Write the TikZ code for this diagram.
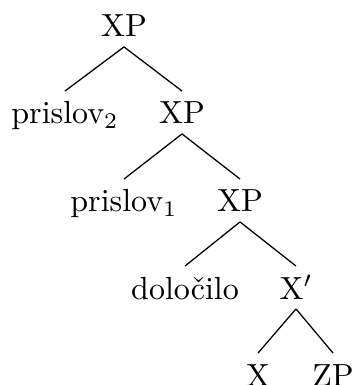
\documentclass[tikz,border=0pt]{standalone}
\begin{document}
\begin{tikzpicture}[x=0.3125pt,y=-0.3125pt,
  lbl/.style={anchor=base,inner sep=0pt,outer sep=0pt,font=\fontsize{10}{12}\selectfont},
  edge/.style={line width=0.4pt}]
\useasboundingbox (0,0) rectangle (353,385);
\node[lbl] (xp0) at (124,37) {XP};
\node[lbl] (pr2) at (65,124) {prislov$_2$};
\node[lbl] (xp1) at (182,124) {XP};
\node[lbl] (pr1) at (124,212) {prislov$_1$};
\node[lbl] (xp2) at (240,212) {XP};
\node[lbl] (dol) at (185,299) {določilo};
\node[lbl] (xb) at (296,299) {X$'$};
\node[lbl] (x) at (258,386) {X};
\node[lbl] (zp) at (333,386) {ZP};
\foreach \p/\c in {xp0/pr2,xp0/xp1,xp1/pr1,xp1/xp2,xp2/dol,xp2/xb,xb/x,xb/zp}
  \draw[edge] ([yshift=-3.1pt]\p.base) -- ([yshift=10.3pt]\c.base);
\end{tikzpicture}
\end{document}
